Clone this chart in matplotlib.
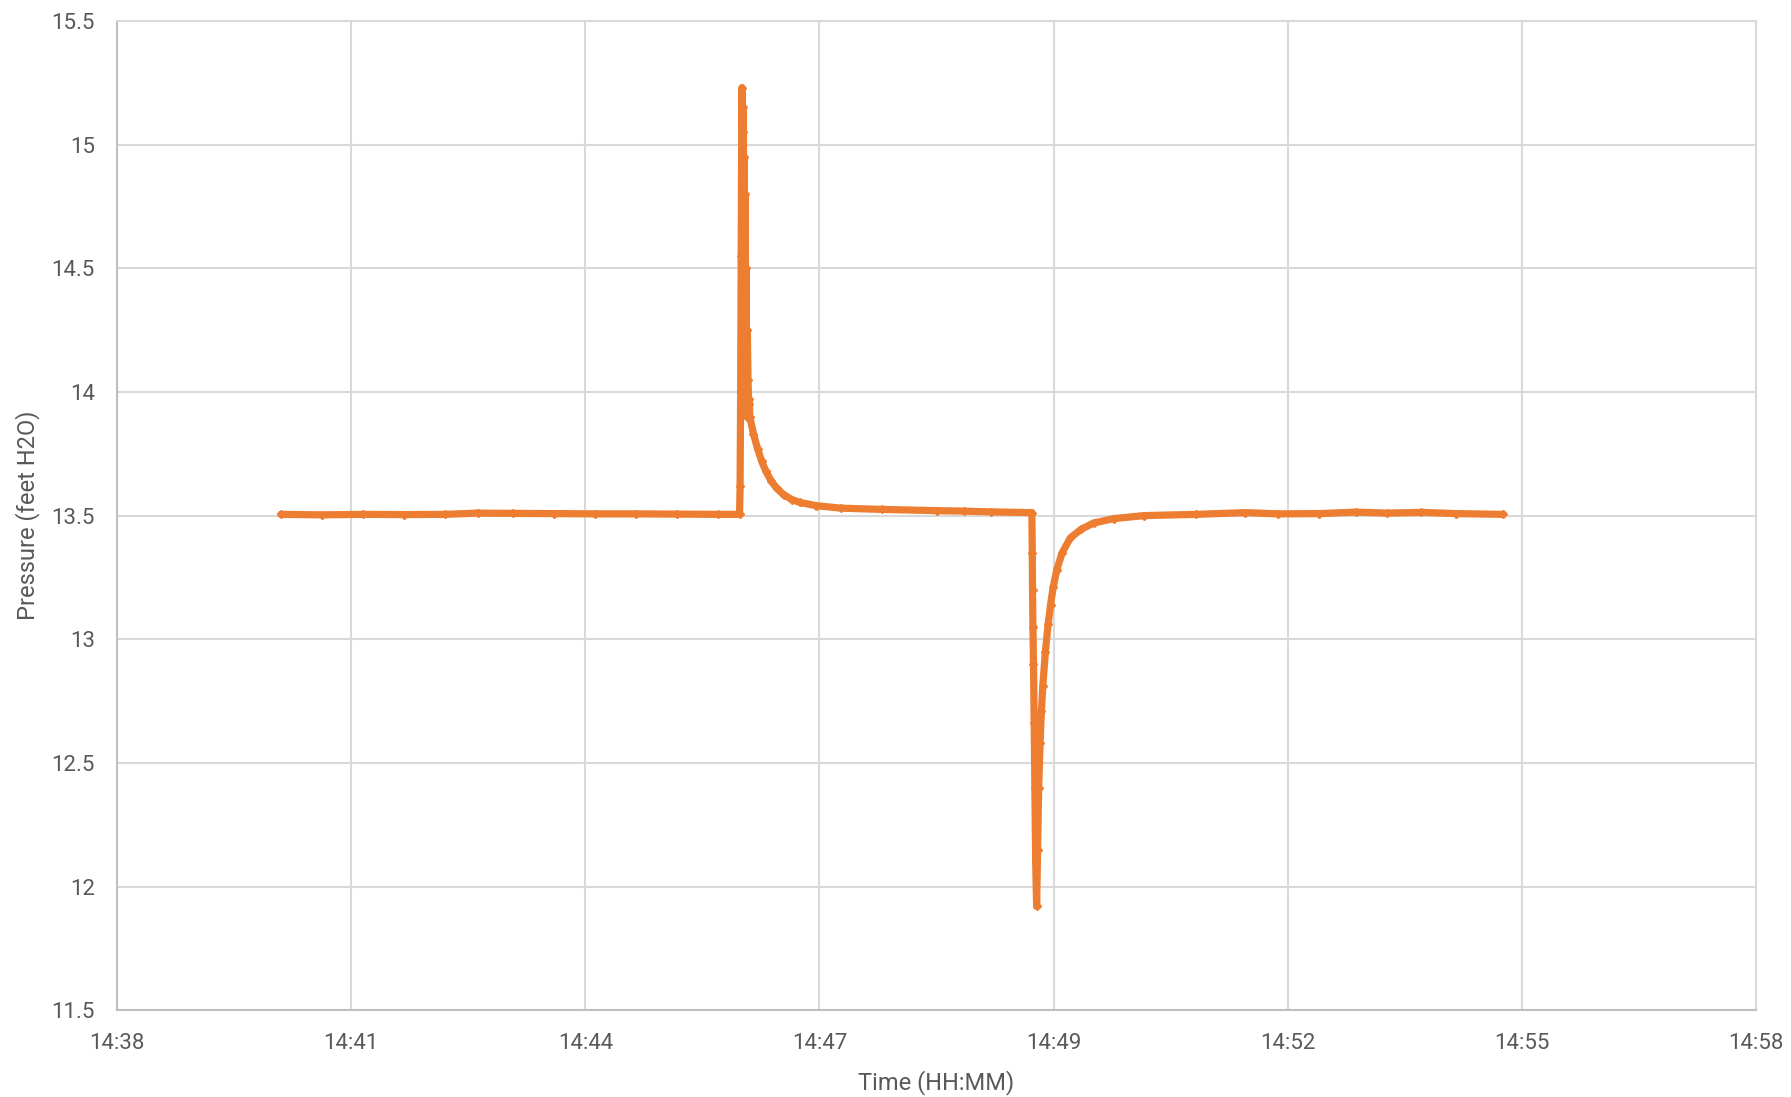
import matplotlib.pyplot as plt
import numpy as np

plt.rcParams['font.family'] = ['Roboto', 'DejaVu Sans']

# time in seconds after 14:38:00, pressure in feet H2O
t_base = [120, 150, 180, 210, 240, 264, 290, 320, 350, 380, 410, 440, 455.8]
p_base = [13.505, 13.503, 13.505, 13.504, 13.505, 13.510, 13.509, 13.508, 13.507,
          13.507, 13.506, 13.505, 13.505]

t_spike = [456.2, 456.6, 457.0, 457.3, 457.6, 458.0, 458.3, 458.6, 459.0, 459.3,
           459.6, 460.0, 460.3, 460.7, 461.0, 461.5, 462.0, 462.5, 463.0]
p_spike = [13.62, 14.0, 14.55, 14.95, 15.23, 15.05, 14.6, 15.15, 14.2, 14.95,
           14.1, 14.8, 13.95, 14.5, 13.9, 14.25, 14.05, 13.95, 13.97]

t_decay = [463.3, 466, 469, 472, 475, 479, 483, 488, 494, 500, 512, 530, 560,
           600, 620, 640, 669.8]
p_decay = [13.90, 13.83, 13.77, 13.72, 13.68, 13.64, 13.61, 13.585, 13.565, 13.553,
           13.54, 13.53, 13.525, 13.52, 13.518, 13.515, 13.512]

t_dip = [670.1, 670.3, 670.6, 671.0, 671.5, 672.0, 672.6, 673.3, 674.0, 674.8,
         675.8, 676.8, 677.8, 679.7, 681.7, 683.5, 685.4, 688, 692, 698, 706,
         715, 730, 752]
p_dip = [13.35, 13.2, 13.05, 12.9, 12.66, 12.4, 12.1, 11.92, 12.15, 12.4,
         12.58, 12.71, 12.81, 12.95, 13.06, 13.14, 13.21, 13.28, 13.35, 13.41, 13.445,
         13.47, 13.488, 13.50]

t_tail = [790, 826, 850, 880, 907, 930, 955, 980, 1015]
p_tail = [13.505, 13.512, 13.507, 13.508, 13.514, 13.51, 13.513, 13.508, 13.505]

y_ticks = [11.5, 12, 12.5, 13, 13.5, 14, 14.5, 15, 15.5]
x_start_min = 14 * 60 + 38   # 14:38
x_span_s = 1200              # 20 minutes on the axis
n_xticks = 8

t = np.array(t_base + t_spike + t_decay + t_dip + t_tail)
p = np.array(p_base + p_spike + p_decay + p_dip + p_tail)

orange = '#ED7D31'
grid_c = '#D9D9D9'
text_c = '#595959'

fig, ax = plt.subplots(figsize=(17.91, 10.97), dpi=100)
fig.subplots_adjust(left=0.0653, right=0.9805, top=0.981, bottom=0.079)

ax.plot(t, p, color=orange, linewidth=5.2, marker='D', markersize=4,
        solid_joinstyle='round', solid_capstyle='round', zorder=3)

xt = np.linspace(0, x_span_s, n_xticks)
labels = []
for s in xt:
    m = int(round(x_start_min + s / 60.0))
    labels.append(f"{m // 60}:{m % 60:02d}")
ax.set_xticks(xt)
ax.set_xticklabels(labels)
ax.set_xlim(0, x_span_s)

ax.set_yticks(y_ticks)
ax.set_yticklabels([f"{v:g}" for v in y_ticks])
ax.set_ylim(11.5, 15.5)

ax.grid(True, color=grid_c, linewidth=1.5, zorder=0)
ax.tick_params(length=0, labelsize=16, labelcolor=text_c, pad=16)
for side in ['top', 'right']:
    ax.spines[side].set_color(grid_c)
    ax.spines[side].set_linewidth(1.5)
for side in ['left', 'bottom']:
    ax.spines[side].set_color('#BFBFBF')
    ax.spines[side].set_linewidth(1.5)

ax.set_xlabel("Time (HH:MM)", fontsize=17, color=text_c, labelpad=12)
ax.set_ylabel("Pressure (feet H2O)", fontsize=17, color=text_c, labelpad=8)

fig.savefig("out.png", dpi=100)
